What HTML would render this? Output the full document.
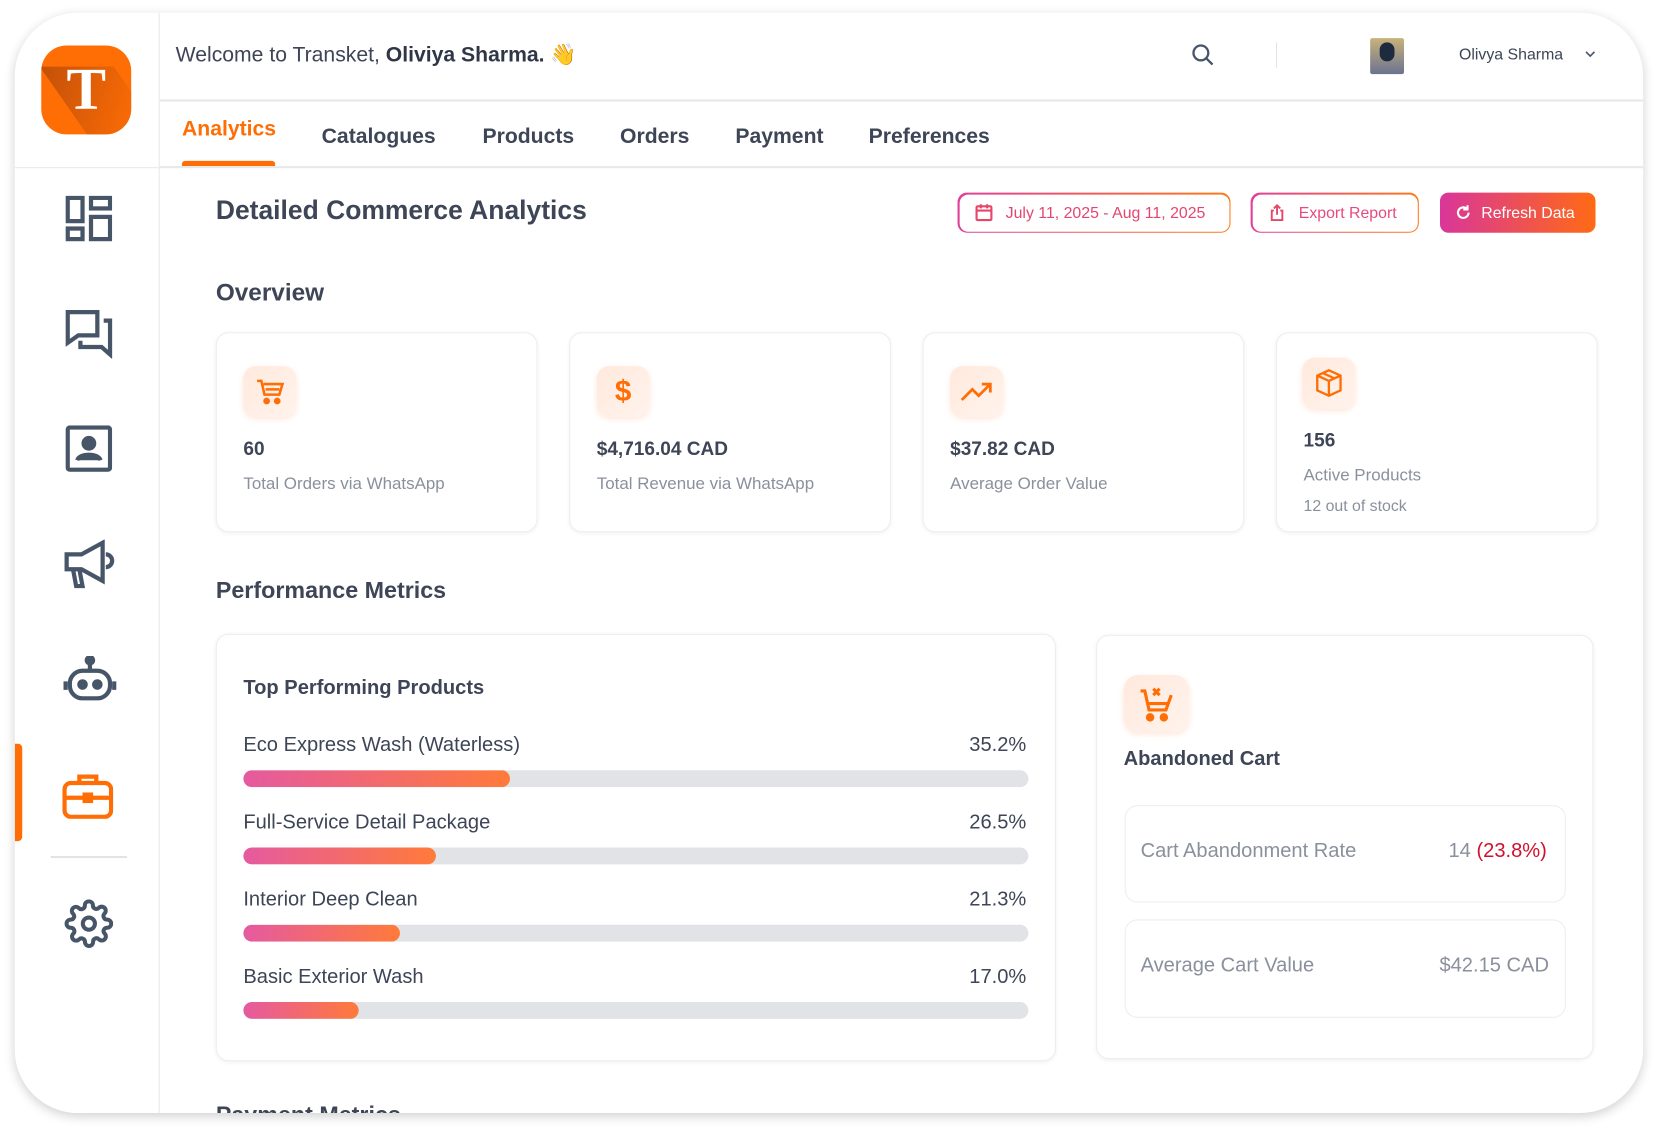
<!DOCTYPE html>
<html><head><meta charset="utf-8"><style>
*{box-sizing:border-box;margin:0;padding:0}
html,body{width:1659px;height:1132px;overflow:hidden;background:#fff;font-family:"Liberation Sans",sans-serif;color:#3d4556}
#w{position:absolute;left:0;top:0;width:1568px;height:1070px;transform:scale(1.05804);transform-origin:0 0}
.a{position:absolute}
.frame{left:14px;top:12px;width:1539px;height:1040px;border-radius:60px;background:#fff;box-shadow:0 3px 10px rgba(0,0,0,.18);overflow:hidden}
.side{left:0;top:0;width:137px;height:1040px;border-right:1px solid #e6e8ec;background:#fff}
.t{white-space:nowrap}
.card{background:#fff;border:1px solid #eceef1;border-radius:12px;box-shadow:0 1px 4px rgba(0,0,0,.06)}
.ib{width:50px;height:48px;border-radius:12px;background:linear-gradient(135deg,#ffe9dd,#fff3ec);box-shadow:0 2px 5px rgba(255,120,60,.18);display:flex;align-items:center;justify-content:center}
.bar{left:230px;width:742px;height:16px;border-radius:8px;background:#e1e3e7;overflow:hidden}
.fill{height:16px;border-radius:8px;background:linear-gradient(90deg,#e55aa0,#ff7a3a)}
.gb{border-radius:9px;padding:1.5px;background:linear-gradient(90deg,#e0409a,#ff7a1a)}
.gb>div{background:#fff;border-radius:8px;width:100%;height:100%;display:flex;align-items:center;font-size:15px}
</style></head><body><div id="w">
<div class="a frame">
 <div class="a side">
  <div class="a" style="left:25px;top:31px;width:85px;height:84px;border-radius:24px;background:#ff6d05;overflow:hidden">
   <div class="a" style="left:30px;top:20px;width:70px;height:90px;background:linear-gradient(135deg,#a8440a,#ff6d05 70%);transform:skewX(35deg);opacity:.7"></div>
   <div class="a t" style="left:0;width:85px;top:12px;text-align:center;font-family:'Liberation Serif',serif;font-weight:bold;font-size:56px;color:#fff;line-height:60px">T</div>
  </div>
  <div class="a" style="left:0;top:146px;width:137px;height:1px;background:#e6e8ec"></div>
  <svg class="a" style="left:48px;top:173px" width="44" height="44" viewBox="0 0 44 44" fill="none" stroke="#475569" stroke-width="4"><rect x="2" y="2" width="14" height="22"/><rect x="24" y="2" width="18" height="10"/><rect x="2" y="31" width="14" height="10"/><rect x="24" y="20" width="18" height="21"/></svg>
  <svg class="a" style="left:48px;top:281px" width="46" height="46" viewBox="0 0 46 46" fill="none" stroke="#475569" stroke-width="4"><path d="M2 2h28v22H12l-10 7z"/><path d="M36 10h6v32l-8-7H14v-6"/></svg>
  <svg class="a" style="left:48px;top:390px" width="44" height="44" viewBox="0 0 44 44" fill="none" stroke="#475569" stroke-width="4"><rect x="2" y="2" width="40" height="40" rx="2"/><circle cx="22" cy="17" r="5" fill="#475569"/><path d="M11 33c2-7 20-7 22 0" fill="#475569"/></svg>
  <svg class="a" style="left:46px;top:498px" width="50" height="46" viewBox="0 0 50 46" fill="none" stroke="#475569" stroke-width="4"><path d="M3 14h14l20-11v36L17 28H3z"/><path d="M9 28l3 16h6l-3-16"/><path d="M40 14a6 6 0 010 12"/></svg>
  <svg class="a" style="left:46px;top:608px" width="50" height="44" viewBox="0 0 50 44" fill="none" stroke="#475569" stroke-width="4"><circle cx="25" cy="4" r="3" fill="#475569"/><path d="M25 7v6"/><rect x="6" y="14" width="38" height="26" rx="12"/><circle cx="18" cy="27" r="3" fill="#475569"/><circle cx="32" cy="27" r="3" fill="#475569"/><path d="M2 24v8M48 24v8"/></svg>
  <div class="a" style="left:0;top:691px;width:7px;height:92px;background:#ff6d05;border-radius:0 4px 4px 0"></div>
  <svg class="a" style="left:45px;top:718px" width="48" height="44" viewBox="0 0 48 44" fill="none" stroke="#ff6d05" stroke-width="4"><rect x="2" y="10" width="44" height="32" rx="6"/><path d="M16 10V4h16v6M2 24h44"/><rect x="21" y="21" width="6" height="6" fill="#ff6d05"/></svg>
  <div class="a" style="left:34px;top:797px;width:72px;height:2px;background:#e1e3e7"></div>
  <svg class="a" style="left:47px;top:838px" width="46" height="46" viewBox="0 0 24 24" fill="none" stroke="#475569" stroke-width="2"><circle cx="12" cy="12" r="3"/><path d="M19.4 15a1.65 1.65 0 00.33 1.82l.06.06a2 2 0 11-2.83 2.83l-.06-.06a1.65 1.65 0 00-1.82-.33 1.65 1.65 0 00-1 1.51V21a2 2 0 11-4 0v-.09A1.65 1.65 0 009 19.4a1.65 1.65 0 00-1.82.33l-.06.06a2 2 0 11-2.83-2.83l.06-.06A1.65 1.65 0 004.68 15a1.65 1.65 0 00-1.51-1H3a2 2 0 110-4h.09A1.65 1.65 0 004.6 9a1.65 1.65 0 00-.33-1.82l-.06-.06a2 2 0 112.83-2.83l.06.06A1.65 1.65 0 009 4.68a1.65 1.65 0 001-1.51V3a2 2 0 114 0v.09a1.65 1.65 0 001 1.51 1.65 1.65 0 001.82-.33l.06-.06a2 2 0 112.83 2.83l-.06.06A1.65 1.65 0 0019.4 9a1.65 1.65 0 001.51 1H21a2 2 0 110 4h-.09a1.65 1.65 0 00-1.51 1z"/></svg>
 </div>
 <!-- header -->
 <div class="a t" style="left:152px;top:27px;font-size:20px;color:#3d4556">Welcome to Transket, <b style="color:#2f3747">Oliviya Sharma.</b> 👋</div>
 <svg class="a" style="left:1111px;top:28px" width="24" height="24" viewBox="0 0 24 24" fill="none" stroke="#475569" stroke-width="2.2"><circle cx="10" cy="10" r="7"/><path d="M15 15l6 6"/></svg>
 <div class="a" style="left:1192px;top:28px;width:1px;height:24px;background:#e1e3e7"></div>
 <div class="a" style="left:1281px;top:24px;width:32px;height:34px;background:linear-gradient(180deg,#c9b27a,#6a7390);border-radius:2px"><div class="a" style="left:9px;top:4px;width:14px;height:18px;border-radius:7px;background:#1e2a3e"></div></div>
 <div class="a t" style="left:1365px;top:31px;font-size:15px;color:#3d4556">Olivya Sharma</div>
 <svg class="a" style="left:1484px;top:35px" width="10" height="8" viewBox="0 0 10 8" fill="none" stroke="#475569" stroke-width="1.5"><path d="M1 2l4 4 4-4"/></svg>
 <div class="a" style="left:137px;top:82px;width:1402px;height:2px;background:#e6e8ec"></div>
 <!-- tabs -->
 <div class="a t" style="left:158px;top:99px;font-size:20px;color:#ff6d05;font-weight:bold">Analytics</div>
 <div class="a" style="left:158px;top:140px;width:88px;height:5px;background:#ff6d05;border-radius:3px 3px 0 0"></div>
 <div class="a t" style="left:290px;top:106px;font-size:20px;color:#3d4556;font-weight:bold;word-spacing:0">Catalogues</div>
 <div class="a t" style="left:442px;top:106px;font-size:20px;color:#3d4556;font-weight:bold">Products</div>
 <div class="a t" style="left:572px;top:106px;font-size:20px;color:#3d4556;font-weight:bold">Orders</div>
 <div class="a t" style="left:681px;top:106px;font-size:20px;color:#3d4556;font-weight:bold">Payment</div>
 <div class="a t" style="left:807px;top:106px;font-size:20px;color:#3d4556;font-weight:bold">Preferences</div>
 <div class="a" style="left:137px;top:145px;width:1402px;height:2px;background:#e6e8ec"></div>
 <!-- title row -->
 <div class="a t" style="left:190px;top:173px;font-size:25px;font-weight:bold;color:#3d4556">Detailed Commerce Analytics</div>
 <div class="a gb" style="left:891px;top:170px;width:258px;height:38px"><div style="padding-left:14px;color:#e54570"><svg width="18" height="18" viewBox="0 0 18 18" fill="none" stroke="#e8456a" stroke-width="2"><rect x="2" y="3" width="14" height="13" rx="1"/><path d="M2 7h14M6 1v4M12 1v4"/></svg><span style="margin-left:12px">July 11, 2025 - Aug 11, 2025</span></div></div>
 <div class="a gb" style="left:1168px;top:170px;width:159px;height:38px"><div style="padding-left:16px;color:#e54a80"><svg width="14" height="16" viewBox="0 0 14 16" fill="none" stroke="#e8456a" stroke-width="1.8"><path d="M4 6H2v9h10V6h-2M7 10V1M4 4l3-3 3 3"/></svg><span style="margin-left:14px">Export Report</span></div></div>
 <div class="a" style="left:1347px;top:170px;width:147px;height:38px;border-radius:8px;background:linear-gradient(90deg,#d9369a,#ff6a14);color:#fff;font-size:15px;display:flex;align-items:center;padding-left:14px"><svg width="16" height="16" viewBox="0 0 16 16" fill="none" stroke="#fff" stroke-width="2"><path d="M13 8a5 5 0 11-1.5-3.6M12 1v4H8"/></svg><span style="margin-left:9px">Refresh Data</span></div>
 <div class="a t" style="left:190px;top:251px;font-size:23px;font-weight:bold;color:#3d4556">Overview</div>
 <!-- cards -->
 <div class="a card" style="left:190px;top:302px;width:304px;height:189px">
  <div class="a ib" style="left:25px;top:31px"><svg width="28" height="28" viewBox="0 0 28 28" fill="none" stroke="#ff6d05" stroke-width="2.4"><path d="M2 4h4l3 13h14l3-10H8M10 12h13"/><circle cx="11" cy="23" r="2" fill="#ff6d05"/><circle cx="21" cy="23" r="2" fill="#ff6d05"/></svg></div>
  <div class="a t" style="left:25px;top:99px;font-size:18px;font-weight:bold">60</div>
  <div class="a t" style="left:25px;top:134px;font-size:16px;color:#8a909c">Total Orders via WhatsApp</div></div>
 <div class="a card" style="left:524px;top:302px;width:304px;height:189px">
  <div class="a ib" style="left:25px;top:31px;color:#ff6d05;font-size:28px;font-weight:bold">$</div>
  <div class="a t" style="left:25px;top:99px;font-size:18px;font-weight:bold">$4,716.04 CAD</div>
  <div class="a t" style="left:25px;top:134px;font-size:16px;color:#8a909c">Total Revenue via WhatsApp</div></div>
 <div class="a card" style="left:858px;top:302px;width:304px;height:189px">
  <div class="a ib" style="left:25px;top:31px"><svg width="32" height="22" viewBox="0 0 32 22" fill="none" stroke="#ff6d05" stroke-width="2.6"><path d="M2 19l10-10 6 6 11-11M21 4h8v8"/></svg></div>
  <div class="a t" style="left:25px;top:99px;font-size:18px;font-weight:bold">$37.82 CAD</div>
  <div class="a t" style="left:25px;top:134px;font-size:16px;color:#8a909c">Average Order Value</div></div>
 <div class="a card" style="left:1192px;top:302px;width:304px;height:189px">
  <div class="a ib" style="left:24px;top:23px"><svg width="28" height="28" viewBox="0 0 28 28" fill="none" stroke="#ff6d05" stroke-width="2.2"><path d="M14 2l11 5v14l-11 5-11-5V7zM3 7l11 5 11-5M14 12v14M8 4.5l11 5"/></svg></div>
  <div class="a t" style="left:25px;top:91px;font-size:18px;font-weight:bold">156</div>
  <div class="a t" style="left:25px;top:126px;font-size:16px;color:#8a909c">Active Products</div>
  <div class="a t" style="left:25px;top:155px;font-size:15px;color:#8a909c">12 out of stock</div></div>
 <div class="a t" style="left:190px;top:533px;font-size:22px;font-weight:bold;color:#3d4556">Performance Metrics</div>
 <!-- top products -->
 <div class="a card" style="left:190px;top:587px;width:794px;height:404px"></div>
 <div class="a t" style="left:216px;top:628px;font-size:19px;font-weight:bold">Top Performing Products</div>
 <div class="a t" style="left:216px;top:682px;font-size:19px">Eco Express Wash (Waterless)</div><div class="a t" style="left:880px;top:682px;width:76px;text-align:right;font-size:19px">35.2%</div>
 <div class="a bar" style="left:216px;top:716px"><div class="fill" style="width:252px"></div></div>
 <div class="a t" style="left:216px;top:755px;font-size:19px">Full-Service Detail Package</div><div class="a t" style="left:880px;top:755px;width:76px;text-align:right;font-size:19px">26.5%</div>
 <div class="a bar" style="left:216px;top:789px"><div class="fill" style="width:182px"></div></div>
 <div class="a t" style="left:216px;top:828px;font-size:19px">Interior Deep Clean</div><div class="a t" style="left:880px;top:828px;width:76px;text-align:right;font-size:19px">21.3%</div>
 <div class="a bar" style="left:216px;top:862px"><div class="fill" style="width:148px"></div></div>
 <div class="a t" style="left:216px;top:901px;font-size:19px">Basic Exterior Wash</div><div class="a t" style="left:880px;top:901px;width:76px;text-align:right;font-size:19px">17.0%</div>
 <div class="a bar" style="left:216px;top:935px"><div class="fill" style="width:109px"></div></div>
 <!-- abandoned -->
 <div class="a card" style="left:1022px;top:588px;width:470px;height:401px"></div>
 <div class="a ib" style="left:1048px;top:626px;width:62px;height:54px;border-radius:14px"><svg width="34" height="36" viewBox="0 0 34 36" fill="none" stroke="#ff6d05" stroke-width="3"><path d="M2 6h4l4 18h16l5-14M10 18h18M14 4l6 6M20 4l-6 6"/><circle cx="11" cy="31" r="2.5" fill="#ff6d05"/><circle cx="24" cy="31" r="2.5" fill="#ff6d05"/></svg></div>
 <div class="a t" style="left:1048px;top:695px;font-size:19px;font-weight:bold">Abandoned Cart</div>
 <div class="a card" style="left:1049px;top:749px;width:417px;height:92px;box-shadow:none"></div>
 <div class="a t" style="left:1064px;top:782px;font-size:19px;color:#8a909c">Cart Abandonment Rate</div>
 <div class="a t" style="left:1300px;top:782px;width:148px;text-align:right;font-size:19px;color:#8a909c">14 <span style="color:#d0102e">(23.8%)</span></div>
 <div class="a card" style="left:1049px;top:857px;width:417px;height:93px;box-shadow:none"></div>
 <div class="a t" style="left:1064px;top:890px;font-size:19px;color:#8a909c">Average Cart Value</div>
 <div class="a t" style="left:1300px;top:890px;width:150px;text-align:right;font-size:19px;color:#8a909c">$42.15 CAD</div>
 <div class="a t" style="left:190px;top:1029px;font-size:22px;font-weight:bold;color:#3d4556">Payment Metrics</div>
</div>
</div></body></html>
